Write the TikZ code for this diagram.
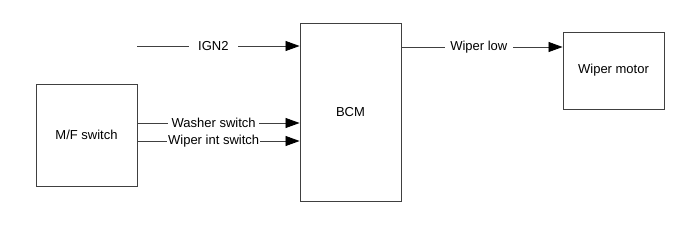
\documentclass[tikz,border=0pt]{standalone}
\usepackage{fontspec}
\setmainfont{Liberation Sans}
\usetikzlibrary{arrows.meta,positioning,calc}
\definecolor{boxline}{HTML}{404040}

\begin{document}
\begin{tikzpicture}[
    x=1pt, y=-1pt,
    box/.style={rectangle, draw=boxline, line width=0.9pt, fill=white, minimum width=101pt, inner sep=0pt, font=\fontsize{13}{15}\selectfont},
    arrow/.style={draw=boxline, line width=0.8pt, -{Triangle[length=14pt,width=10pt,black]}},
    sig/.style={fill=white, inner ysep=2pt, font=\fontsize{13}{15}\selectfont}
]
\useasboundingbox (0,0) rectangle (700,226);

\node [box, minimum height=178pt] (bcm) at (350.5,112) {BCM};
\node [box, minimum height=102pt] (mf) at (86.5,135) {M/F switch};
\node [box, minimum height=77pt] (motor) at (613.5,70.5) {Wiper motor};

\coordinate (ign) at (137,46);
\coordinate (washer) at (137,123);
\coordinate (wint) at (137,141);

\draw [arrow] (ign) -- node [sig, pos=0.47, inner xsep=9.5pt] {IGN2} (bcm.west |- ign);
\draw [arrow] (mf.east |- washer) -- node [sig, pos=0.47, inner xsep=3.8pt] {Washer switch} (bcm.west |- washer);
\draw [arrow] (mf.east |- wint) -- node [sig, pos=0.47, inner xsep=1pt] {Wiper int switch} (bcm.west |- wint);
\draw [arrow] (bcm.east |- 0,47) -- node [sig, pos=0.48, inner xsep=5.5pt] {Wiper low} (motor.west |- 0,47);

\end{tikzpicture}
\end{document}
